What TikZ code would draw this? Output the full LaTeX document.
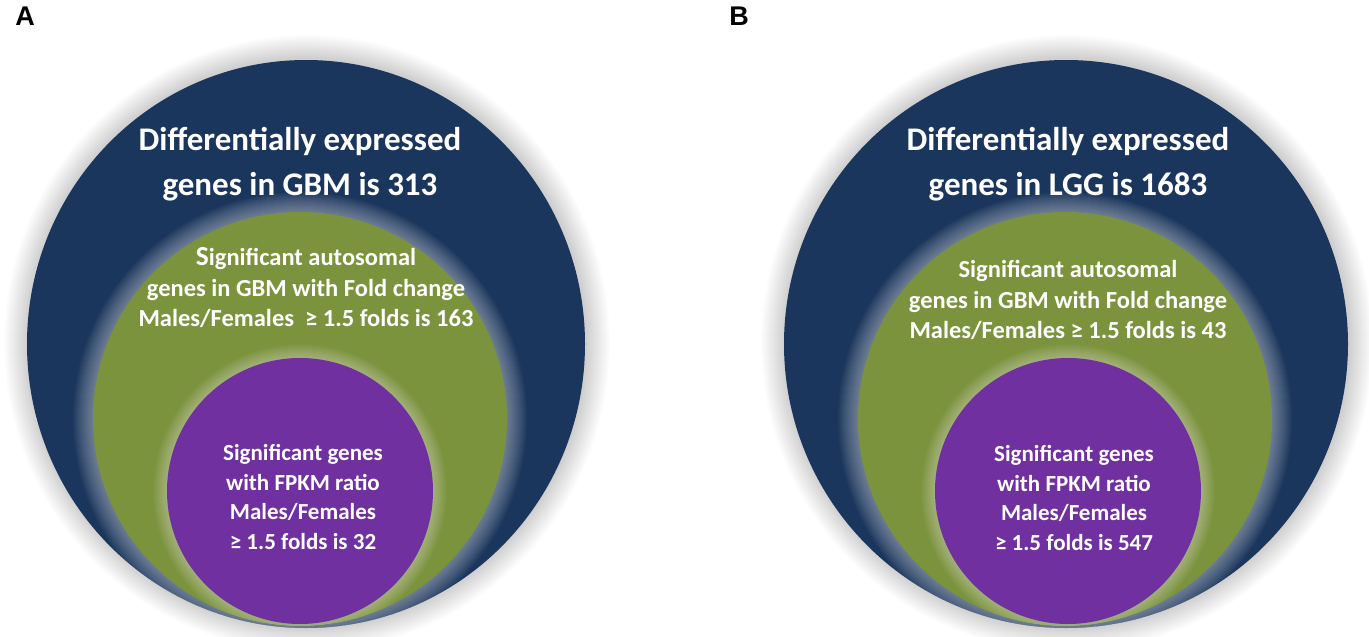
\documentclass[tikz,border=0pt]{standalone}
\usepackage{fontspec}
\setmainfont{Carlito}
\newfontfamily\labfont{Liberation Sans}
\definecolor{dblue}{RGB}{27,54,93}
\definecolor{lgreen}{RGB}{122,147,60}
\definecolor{vpurple}{RGB}{112,48,160}
\tikzset{
  titletext/.style={text=white, font=\bfseries\fontsize{33}{45}\selectfont, align=center, inner sep=0pt},
  bodytext/.style={text=white, font=\bfseries\fontsize{24.5}{30.5}\selectfont, align=center, inner sep=0pt},
  innertext/.style={text=white, font=\bfseries\fontsize{23}{29.5}\selectfont, align=center, inner sep=0pt},
  panellabel/.style={font=\labfont\bfseries\fontsize{27}{27}\selectfont, inner sep=0pt},
}
\newcommand\ringglow[6]{%
  \foreach \k in {1,...,#5}{\fill[#4, opacity=#6] #1 ellipse [x radius={(#2+\k)*1pt}, y radius={(#3+\k)*1pt}];}%
}
\begin{document}
\begin{tikzpicture}[x=1pt,y=-1pt]
\useasboundingbox (0,0) rectangle (1369,637);
\fill[white] (0,0) rectangle (1369,637);
% ---------- Panel A ----------
\ringglow{(307,343)}{279}{284}{black}{24}{0.009}
\fill[dblue] (306,344) ellipse [x radius=279pt, y radius=284pt];
\begin{scope}
  \clip (306,344) ellipse [x radius=279pt, y radius=284pt];
  \ringglow{(300,419)}{207}{207}{white}{20}{0.025}
  \fill[lgreen] (300,419) circle [radius=207pt];
  \clip (300,419) circle [radius=207pt];
  \ringglow{(300,491)}{133}{133}{white}{14}{0.028}
  \fill[vpurple] (300,491) circle [radius=133pt];
\end{scope}
% ---------- Panel B ----------
\ringglow{(1067,343)}{282}{284}{black}{24}{0.009}
\fill[dblue] (1066,344) ellipse [x radius=282pt, y radius=284pt];
\begin{scope}
  \clip (1066,344) ellipse [x radius=282pt, y radius=284pt];
  \ringglow{(1065,419)}{207}{207}{white}{20}{0.025}
  \fill[lgreen] (1065,419) circle [radius=207pt];
  \clip (1065,419) circle [radius=207pt];
  \ringglow{(1068,491)}{133}{133}{white}{14}{0.028}
  \fill[vpurple] (1068,491) circle [radius=133pt];
\end{scope}
% ---------- Texts ----------
\node[panellabel] (labA) at (25,16) {A};
\node[panellabel] (labB) at (739,16) {B};
\node[titletext] (titleA) at (300,164) {Differentially expressed\\genes in GBM is 313};
\node[titletext] (titleB) at (1068,164) {Differentially expressed\\genes in LGG is 1683};
\node[bodytext] (midA) at (306,288) {{\fontsize{27.5}{30}\selectfont S}ignificant autosomal\\genes in GBM with Fold change\\Males/Females\ \ ≥ 1.5 folds is 163};
\node[bodytext] (midB) at (1068,300) {Significant autosomal\\genes in GBM with Fold change\\Males/Females ≥ 1.5 folds is 43};
\node[innertext] (innA) at (303,497) {Significant genes\\with FPKM ratio\\Males/Females\\ ≥ 1.5 folds is 32};
\node[innertext] (innB) at (1074,498) {Significant genes\\with FPKM ratio\\Males/Females\\ ≥ 1.5 folds is 547};
\end{tikzpicture}
\end{document}
